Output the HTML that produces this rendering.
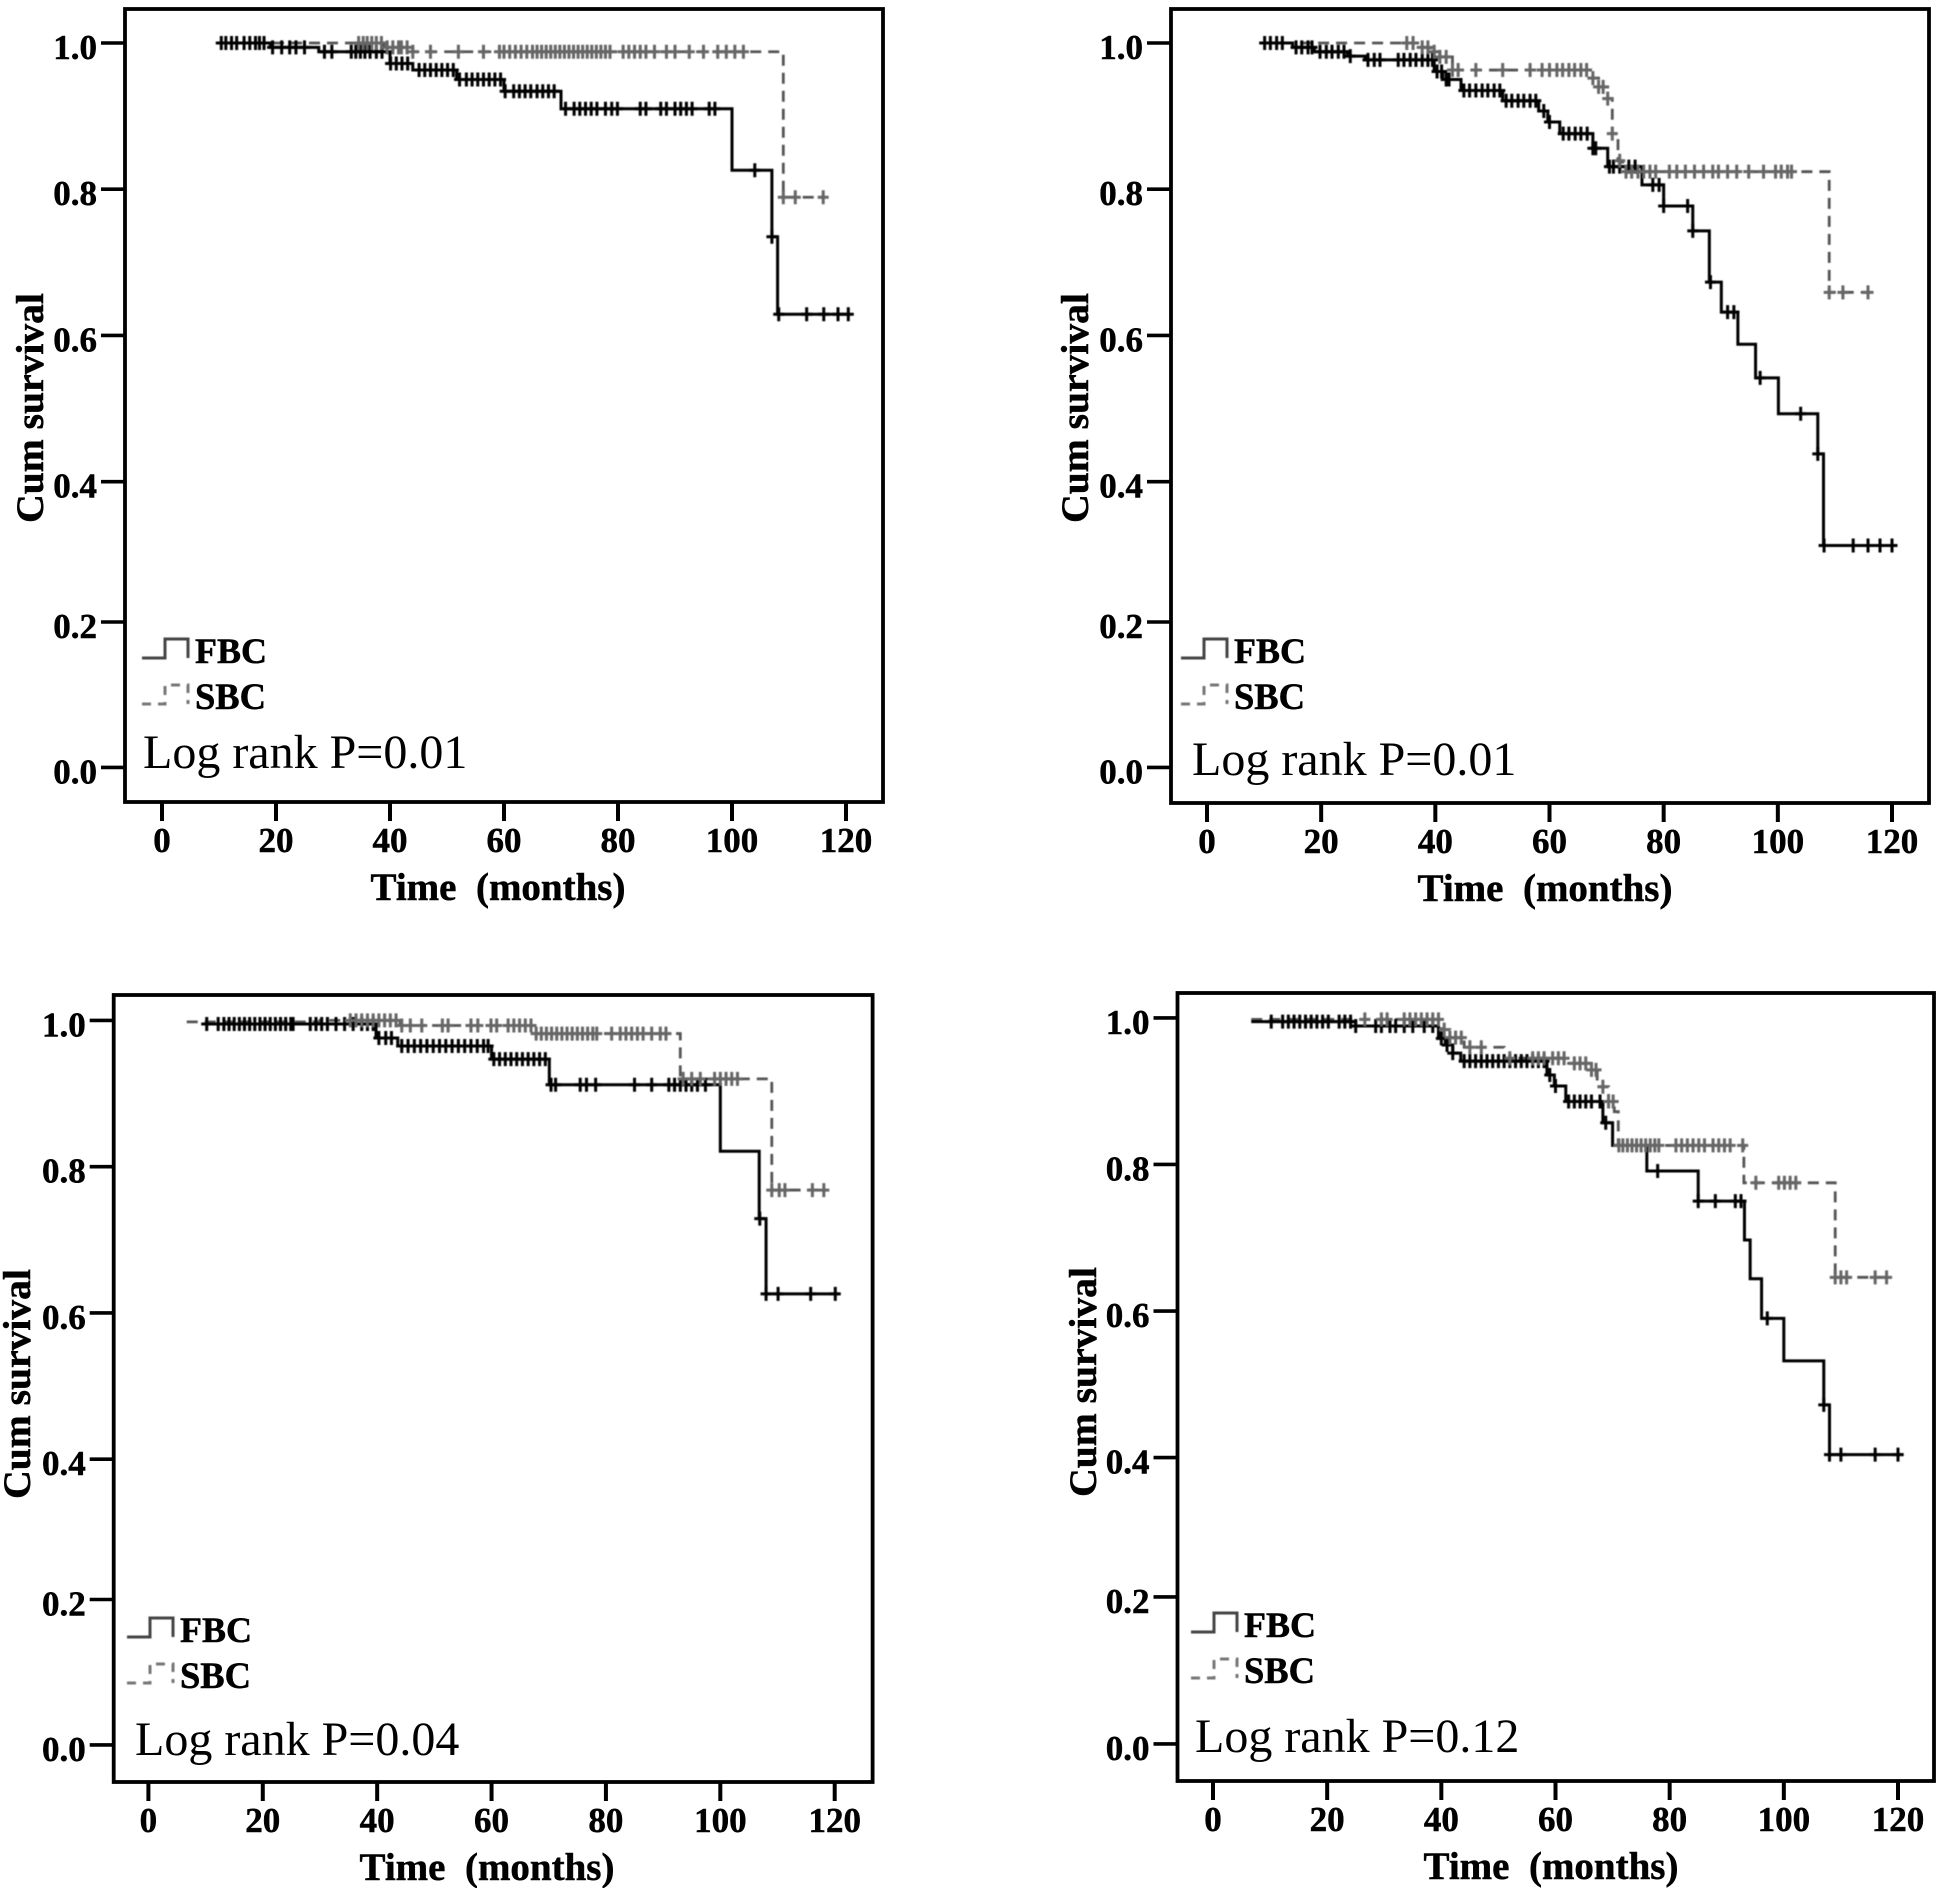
<!DOCTYPE html>
<html lang="en">
<head>
<meta charset="utf-8">
<title>Kaplan-Meier survival curves: FBC vs SBC</title>
<style>
  html, body { margin: 0; padding: 0; background: #fff; }
  #chart { display: block; width: 1939px; height: 1888px; }
  text { font-family: "Liberation Serif", serif; fill: #000; }
  .bold { font-weight: bold; stroke: #000; stroke-width: 0.5px; }
  .soft { filter: blur(0.6px); }
</style>
</head>
<body>
<svg id="chart" xmlns="http://www.w3.org/2000/svg" width="1939" height="1888" viewBox="0 0 1939 1888"></svg>
<script>
const xTickLabels = ["0","20","40","60","80","100","120"];
const yTickLabels = ["0.0","0.2","0.4","0.6","0.8","1.0"];
const seriesNames = ["FBC","SBC"];

// Panel A
const aFbcTimes = [10,19,27.5,40,44,51.7,60,70,100,107,108,120.6];
const aFbcValues = [1,.994,.988,.972,.963,.95,.934,.91,.826,.735,.629,.629];
const aFbcCensored = [10.4,11.2,12.2,13.1,14.4,15.4,16.4,17.1,17.9,19.4,21,22.4,23.5,25,28.5,29.8,33.2,34,34.8,35.6,36.5,37.6,38.6,40.1,41.1,42.1,43.1,45.1,46.1,47.1,48.1,49.1,50.1,51.1,52.2,53.4,54.4,55.4,56.4,57.4,58.4,59.4,60.2,61.7,62.7,63.7,64.7,65.8,66.8,67.8,68.8,70.8,72.3,73.3,74.3,75.3,76.3,77.8,78.9,79.9,83.9,84.9,87.5,88.5,90,91,92,93,96,97,104,107,108.2,113.1,116.1,118.6,120.4];
const aSbcTimes = [10,39,44,109,116];
const aSbcValues = [1,.994,.988,.789,.789];
const aSbcCensored = [34.5,35.3,36,36.8,37.6,38.5,39.5,40.5,41.5,42,43,44,47.1,52,56.4,59.2,60,61,62,63,64,65,65.8,66.6,67.4,68.2,69,69.8,70.6,71.4,72.2,73,73.8,74.6,75.4,76.2,77,77.8,78.6,80.9,81.9,82.9,83.9,84.9,86.4,88.5,90,92.5,95,97.5,99,100.5,102,109,111.1,116];

// Panel B
const bFbcTimes = [9.9,15,18.8,24.6,27.7,39.8,41.3,44.5,51.8,58.1,59.7,61.8,67.6,70.2,76.2,80,85.1,88,90.1,93,96.1,100.1,107,108,120.6];
const bFbcValues = [1,.994,.988,.982,.977,.961,.95,.935,.921,.907,.892,.876,.856,.831,.806,.777,.743,.673,.632,.588,.542,.493,.438,.309,.309];
const bFbcCensored = [10.1,11.1,12.2,13.2,15.6,16.6,17.7,18.4,19.8,20.9,21.9,23,24,25.1,28.2,29.3,30.3,33.5,34.5,35.6,36.6,37.7,38.7,39.5,40.3,41.1,41.9,42.4,45,46,47.1,48.2,49.2,50.3,51.3,52.4,53.4,54.5,55.5,56.6,57.6,59,60,62.4,63.4,64.5,65.5,66.6,67.6,68.1,70.5,71.2,72.3,73.9,75,78.1,79.2,80,84.2,85.1,88.2,91.2,92.3,96.9,104,107,108.1,113.2,115.8,117.9,120];
const bSbcTimes = [10,37.5,39.2,40.8,43,67,68.6,70.2,71,72,72.8,109,115.8];
const bSbcValues = [1,.994,.988,.981,.963,.952,.94,.924,.876,.839,.824,.659,.659];
const bSbcCensored = [35,36.1,37.7,38.7,39.8,40.8,41.9,43,44,47.1,51.8,56.6,58.7,60,61.3,62.3,63.4,64.4,65.5,66.5,67.6,68.6,69.4,70.2,71,72.3,73.4,74.4,75.5,76.5,77.6,78.6,81,82.3,83.8,85.4,87,88.6,89.6,91.2,92.8,94.9,97.5,99.6,100.6,101.7,102.4,109,111.4,115.8];

// Panel C
const cFbcTimes = [9.7,39.8,43.6,60,70.1,100,106.8,108,120.8];
const cFbcValues = [.995,.976,.965,.947,.912,.821,.729,.626,.626];
const cFbcCensored = [10.2,12.2,13.2,14.1,15,15.9,16.8,17.7,18.6,19.5,20.4,21.3,22.2,23.1,24,24.9,25.3,28.3,29.3,30.3,31.3,32.8,34.3,35.8,37.3,38.3,39.3,40.3,41.5,42.5,44.3,45.4,46.5,47.6,48.7,49.8,50.9,52,53.1,54.2,55.3,56.4,57.5,58.6,59.4,60.4,61.4,62.4,63.4,64.4,65.4,66.4,67.4,68.4,69.4,70.4,71.2,75.5,76.6,78.2,85,88,91,92,93,94,95,96,97.4,106.9,108,110.1,115.8,120.1];
const cSbcTimes = [6.7,30,44,67,93,109,118.1];
const cSbcValues = [.998,1,.993,.982,.92,.768,.768];
const cSbcCensored = [35.3,36.3,37.3,38.3,39.3,40.3,41.3,42.3,43.3,44.3,45.8,47.8,51.4,52.4,56.4,57.6,59.9,60.9,62.9,63.9,64.9,65.9,66.9,67.8,68.7,69.6,70.5,71.4,72.3,73.2,74.1,75,75.9,76.8,77.7,78.4,81,82.5,83.5,84.5,85.5,86.5,88,89.5,90.5,93.5,95,96.5,99,100,101,102,103,109,110.3,111.3,116.1,118.1];

// Panel D
const dFbcTimes = [6.7,25,39.5,40.7,42,43.4,58.5,59.8,61.8,68.3,70,76,85,93.1,94.1,96.1,100,107,108,121];
const dFbcValues = [.995,.989,.972,.963,.952,.941,.922,.907,.886,.857,.826,.791,.75,.697,.644,.59,.532,.472,.404,.404];
const dFbcCensored = [10.2,12.2,13.2,14.2,15.2,16.2,17.2,18.2,19.2,20.2,22.1,23.1,24.1,25,28.5,29.5,31,32,33.5,35,37,38.5,40,41,42,44,45,46,47,48,49,50,51,52,53,54,55,56,57,58,59,60,62.3,63.3,64.3,65.3,66.3,67.8,68.8,77.9,85,88,91.5,92.5,97.1,107,108,110,116,120];
const dSbcTimes = [6.7,40,41.5,44,51,62.3,66.3,67.3,69.3,70.3,71,93,109,118];
const dSbcValues = [.998,.984,.973,.96,.945,.938,.929,.906,.886,.872,.826,.775,.646,.646];
const dSbcCensored = [26.6,29.5,30.5,33.5,34.5,35.5,36.5,37.5,38.5,39.5,40.5,41.5,42.5,43.5,45,47,52,56,57,58,59.5,60.5,61.5,63.3,64.3,65.3,66.3,67.1,68.3,69.3,70.1,71.1,71.8,72.6,73.4,74.2,75,75.8,76.6,77.4,78.1,81.1,82.1,83.1,84.1,85.1,86.1,87.6,88.6,89.6,90.6,92.8,95.1,99.1,100.1,101.1,102.1,109,110,111,116,118];

const logRankLabels = ["Log rank P=0.01","Log rank P=0.01","Log rank P=0.04","Log rank P=0.12"];

const SVG_NS = "http://www.w3.org/2000/svg";
const svg = document.getElementById("chart");

function make(tag, parent, attrs) {
  const el = document.createElementNS(SVG_NS, tag);
  for (const k in attrs) el.setAttribute(k, attrs[k]);
  parent.appendChild(el);
  return el;
}

function stepPath(times, values, xs, ys) {
  let d = "M" + xs(times[0]) + " " + ys(values[0]);
  for (let i = 1; i < times.length; i++) {
    d += "H" + xs(times[i]) + "V" + ys(values[i]);
  }
  return d;
}

function survivalAt(t, times, values) {
  let s = values[0];
  for (let i = 0; i < times.length; i++) {
    if (times[i] <= t) s = values[i];
  }
  return s;
}

function drawCensors(parent, series, times, values, censored, xs, ys, color) {
  censored.forEach(function (t) {
    const cx = xs(t);
    const cy = ys(survivalAt(t, times, values));
    const mark = make("path", parent, {
      d: "M" + (cx - 5.5) + " " + cy + "H" + (cx + 5.5) + "M" + cx + " " + (cy - 7) + "V" + (cy + 7),
      fill: "none", stroke: color, "stroke-width": 3
    });
    
    
  });
}

function drawPanel(p) {
  const xs = function (t) { return p.x0 + t * (p.x120 - p.x0) / 120; };
  // The printed axis is slightly uneven in its lower part, so the scale has three linear segments.
  const ys = function (s) {
    if (s >= 0.4) return p.y04 + (s - 0.4) * (p.y1 - p.y04) / 0.6;
    if (s >= 0.2) return p.y02 + (s - 0.2) * (p.y04 - p.y02) / 0.2;
    return p.y0 + s * (p.y02 - p.y0) / 0.2;
  };

  const g = make("g", svg, {});
  
  

  const box = make("rect", g, { x: p.left, y: p.top, width: p.right - p.left, height: p.bottom - p.top, fill: "none", stroke: "#000", "stroke-width": 3.8 });
  
  

  xTickLabels.forEach(function (lab) {
    const x = xs(Number(lab));
    const tick = make("line", g, { x1: x, x2: x, y1: p.bottom, y2: p.bottom + 19, stroke: "#000", "stroke-width": 4 });
    
    
    const t = make("text", g, { x: x, y: p.bottom + 50, "text-anchor": "middle", "font-size": 35, class: "bold" });
    t.textContent = lab;
    
    
  });

  yTickLabels.forEach(function (lab) {
    const y = ys(Number(lab));
    const tick = make("line", g, { x1: p.left - 24, x2: p.left, y1: y, y2: y, stroke: "#000", "stroke-width": 3.6 });
    
    
    const t = make("text", g, { x: p.left - 28, y: y + 16, "text-anchor": "end", "font-size": 35, class: "bold" });
    t.textContent = lab;
    
    
  });

  const xTitle = make("text", g, { x: p.titleX, y: p.bottom + 98, "text-anchor": "middle", "font-size": 39, class: "bold", style: "white-space:pre" });
  xTitle.textContent = "Time  (months)";
  
  

  const yTitle = make("text", g, { transform: "translate(" + p.yTitleX + " " + p.yTitleY + ") rotate(-90)", "text-anchor": "middle", "font-size": 39.6, class: "bold" });
  yTitle.textContent = "Cum survival";
  
  

  const curves = make("g", g, { class: "soft" });
  
  

  const sbcLine = make("path", curves, { d: stepPath(p.sbcTimes, p.sbcValues, xs, ys), fill: "none", stroke: "#555", "stroke-width": 2.8, "stroke-dasharray": "11 7" });
  
  

  const fbcLine = make("path", curves, { d: stepPath(p.fbcTimes, p.fbcValues, xs, ys), fill: "none", stroke: "#000", "stroke-width": 3 });
  
  

  drawCensors(curves, 'fbc', p.fbcTimes, p.fbcValues, p.fbcCensored, xs, ys, "#000");
  drawCensors(curves, 'sbc', p.sbcTimes, p.sbcValues, p.sbcCensored, xs, ys, "#666");

  const keyFbc = make("path", g, { d: "M" + p.iconX + " " + p.legendY + "h23v-19h23v19", fill: "none", stroke: "#444", "stroke-width": 3, class: "soft" });
  
  
  const fbcText = make("text", g, { x: p.iconX + 53, y: p.legendY + 5, "font-size": 36, class: "bold" });
  fbcText.textContent = seriesNames[0];
  
  

  const keySbc = make("path", g, { d: "M" + p.iconX + " " + (p.legendY + 46) + "h23v-19h23v19", fill: "none", stroke: "#777", "stroke-width": 3, "stroke-dasharray": "9 7", class: "soft" });
  
  
  const sbcText = make("text", g, { x: p.iconX + 53, y: p.legendY + 51, "font-size": 36.5, class: "bold" });
  sbcText.textContent = seriesNames[1];
  
  

  const logRank = make("text", g, { x: p.logX, y: p.logY, "font-size": 48 });
  logRank.textContent = logRankLabels[p.index];
  
  
}

drawPanel({ id: "a", index: 0, left: 125, right: 883, top: 9, bottom: 802, x0: 162, x120: 846, y1: 43, y04: 481.7, y02: 622, y0: 767.4, titleX: 498, yTitleX: 43, yTitleY: 408, iconX: 142, legendY: 658, logX: 143, logY: 768,
  fbcTimes: aFbcTimes, fbcValues: aFbcValues, fbcCensored: aFbcCensored, sbcTimes: aSbcTimes, sbcValues: aSbcValues, sbcCensored: aSbcCensored });
drawPanel({ id: "b", index: 1, left: 1171, right: 1929, top: 9, bottom: 803, x0: 1207, x120: 1892, y1: 43, y04: 481.7, y02: 622, y0: 767.4, titleX: 1545, yTitleX: 1088, yTitleY: 408, iconX: 1181, legendY: 658, logX: 1192, logY: 775,
  fbcTimes: bFbcTimes, fbcValues: bFbcValues, fbcCensored: bFbcCensored, sbcTimes: bSbcTimes, sbcValues: bSbcValues, sbcCensored: bSbcCensored });
drawPanel({ id: "c", index: 2, left: 113.7, right: 872.6, top: 995, bottom: 1782, x0: 148.4, x120: 834.7, y1: 1020.4, y04: 1459.2, y02: 1599.5, y0: 1744.9, titleX: 487, yTitleX: 30, yTitleY: 1384, iconX: 127, legendY: 1637, logX: 135, logY: 1755,
  fbcTimes: cFbcTimes, fbcValues: cFbcValues, fbcCensored: cFbcCensored, sbcTimes: cSbcTimes, sbcValues: cSbcValues, sbcCensored: cSbcCensored });
drawPanel({ id: "d", index: 3, left: 1177.5, right: 1934, top: 993, bottom: 1781, x0: 1213, x120: 1898, y1: 1017.9, y04: 1457.6, y02: 1596.9, y0: 1743.9, titleX: 1551, yTitleX: 1096, yTitleY: 1382, iconX: 1191, legendY: 1632, logX: 1195, logY: 1752,
  fbcTimes: dFbcTimes, fbcValues: dFbcValues, fbcCensored: dFbcCensored, sbcTimes: dSbcTimes, sbcValues: dSbcValues, sbcCensored: dSbcCensored });
</script>
</body>
</html>
